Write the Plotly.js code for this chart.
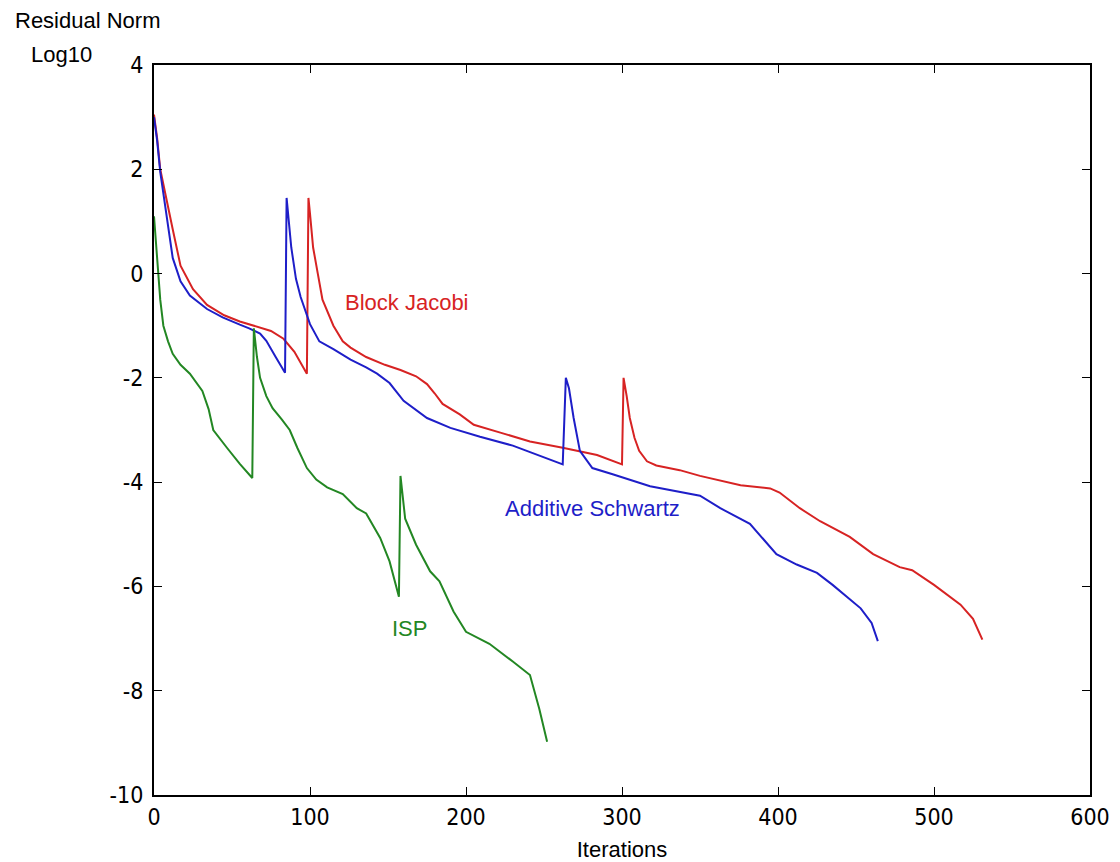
<!DOCTYPE html>
<html>
<head>
<meta charset="utf-8">
<script src="https://cdn.plot.ly/plotly-3.0.1.min.js"></script>
<style>body{margin:0;background:#fff;}#chart{width:1120px;height:862px;}</style>
</head>
<body>
<div id="chart"></div>
<script>
// Block Jacobi
var bjX = [0,2,4,8,12,17,25,34,45,55,64,75,83,90,98,99,100,102,105,108,115,121,126,136,148,158,168,175,180,185,196,205,222,241,262,284,300,301,303,305,308,311,316,322,337,350,376,395,401,414,427,446,461,478,486,500,517,525,531];
var bjY = [3.05,2.6,2.0,1.4,0.85,0.15,-0.3,-0.6,-0.8,-0.92,-1.0,-1.1,-1.25,-1.5,-1.92,1.45,1.15,0.5,0.0,-0.5,-1.0,-1.3,-1.42,-1.6,-1.75,-1.85,-1.97,-2.12,-2.3,-2.5,-2.7,-2.9,-3.05,-3.22,-3.34,-3.48,-3.66,-2.0,-2.35,-2.77,-3.15,-3.4,-3.6,-3.68,-3.77,-3.88,-4.06,-4.12,-4.2,-4.5,-4.75,-5.05,-5.38,-5.63,-5.69,-5.97,-6.35,-6.62,-7.02];
// Additive Schwartz
var asX = [0,2,4,8,12,17,23,34,44,55,61,68,72,78,84,85,86,88,91,94,100,106,115,126,136,143,151,160,175,190,209,230,262,264,266,269,273,281,294,318,350,363,382,399,412,425,435,453,460,464];
var asY = [3.0,2.55,1.95,1.1,0.3,-0.15,-0.42,-0.68,-0.84,-0.98,-1.05,-1.15,-1.29,-1.6,-1.9,1.45,1.1,0.5,-0.1,-0.45,-0.97,-1.3,-1.45,-1.65,-1.8,-1.92,-2.1,-2.44,-2.77,-2.96,-3.13,-3.3,-3.66,-2.0,-2.2,-2.77,-3.4,-3.73,-3.85,-4.08,-4.26,-4.5,-4.8,-5.38,-5.58,-5.74,-5.97,-6.42,-6.7,-7.05];
// ISP
var ispX = [0,2,4,6,9,12,17,23,31,35,38,47,55,63,64,66,68,72,76,82,87,92,98,104,111,121,130,136,145,151,157,158,161,168,177,183,192,200,215,230,241,247,252];
var ispY = [1.1,0.3,-0.5,-1.0,-1.3,-1.54,-1.75,-1.92,-2.25,-2.6,-3.0,-3.35,-3.65,-3.92,-1.05,-1.6,-2.0,-2.35,-2.58,-2.8,-3.0,-3.35,-3.73,-3.95,-4.1,-4.23,-4.5,-4.6,-5.07,-5.52,-6.2,-3.88,-4.7,-5.2,-5.71,-5.9,-6.48,-6.87,-7.1,-7.44,-7.7,-8.35,-8.98];

// Tick labels
var xTickVals = [0,100,200,300,400,500,600];
var xTickText = ["0","100","200","300","400","500","600"];
var yTickVals = [-10,-8,-6,-4,-2,0,2,4];
var yTickText = ["-10","-8","-6","-4","-2","0","2","4"];

var seriesNames = ["Block Jacobi","Additive Schwartz","ISP"];
var colors = ["rgb(215,35,35)","rgb(30,30,200)","rgb(35,135,35)"];
var tickFont = {family:"DejaVu Sans Condensed, DejaVu Sans, sans-serif", size:23, color:"#000"};
var textFamily = "Liberation Sans, Arial, sans-serif";

var traces = [
  {x:bjX, y:bjY, name:seriesNames[0], mode:"lines", line:{color:colors[0], width:2}},
  {x:asX, y:asY, name:seriesNames[1], mode:"lines", line:{color:colors[1], width:2}},
  {x:ispX, y:ispY, name:seriesNames[2], mode:"lines", line:{color:colors[2], width:2}}
];

var axisBase = {showgrid:false, zeroline:false, showline:true, linecolor:"#000", linewidth:2,
  mirror:"ticks", ticks:"inside", ticklen:8, tickwidth:1, tickcolor:"#000", tickfont:tickFont,
  tickmode:"array"};

var layout = {
  width:1120, height:862,
  margin:{l:154, r:30, t:65, b:67},
  paper_bgcolor:"#fff", plot_bgcolor:"#fff",
  showlegend:false,
  xaxis: Object.assign({}, axisBase, {range:[0,600], tickvals:xTickVals, ticktext:xTickText,
    title:{text:"Iterations", font:{family:textFamily, size:22, color:"#000"}, standoff:14}}),
  yaxis: Object.assign({}, axisBase, {range:[-10,4], tickvals:yTickVals, ticktext:yTickText, ticklabelstandoff:4}),
  annotations:[
    {text:"Residual Norm", xref:"paper", yref:"paper", x:-0.0705, y:1.0616, showarrow:false, xanchor:"center", yanchor:"middle",
     font:{family:textFamily, size:22, color:"#000"}},
    {text:"Log10", xref:"paper", yref:"paper", x:-0.0983, y:1.0137, showarrow:false, xanchor:"center", yanchor:"middle",
     font:{family:textFamily, size:22, color:"#000"}},
    {text:seriesNames[0], x:162, y:-0.55, xref:"x", yref:"y", showarrow:false,
     font:{family:textFamily, size:22, color:colors[0]}},
    {text:seriesNames[1], x:281, y:-4.5, xref:"x", yref:"y", showarrow:false,
     font:{family:textFamily, size:22, color:colors[1]}},
    {text:seriesNames[2], x:164, y:-6.8, xref:"x", yref:"y", showarrow:false,
     font:{family:textFamily, size:22, color:colors[2]}}
  ]
};

Plotly.newPlot("chart", traces, layout, {displayModeBar:false, staticPlot:true});
</script>
</body>
</html>
